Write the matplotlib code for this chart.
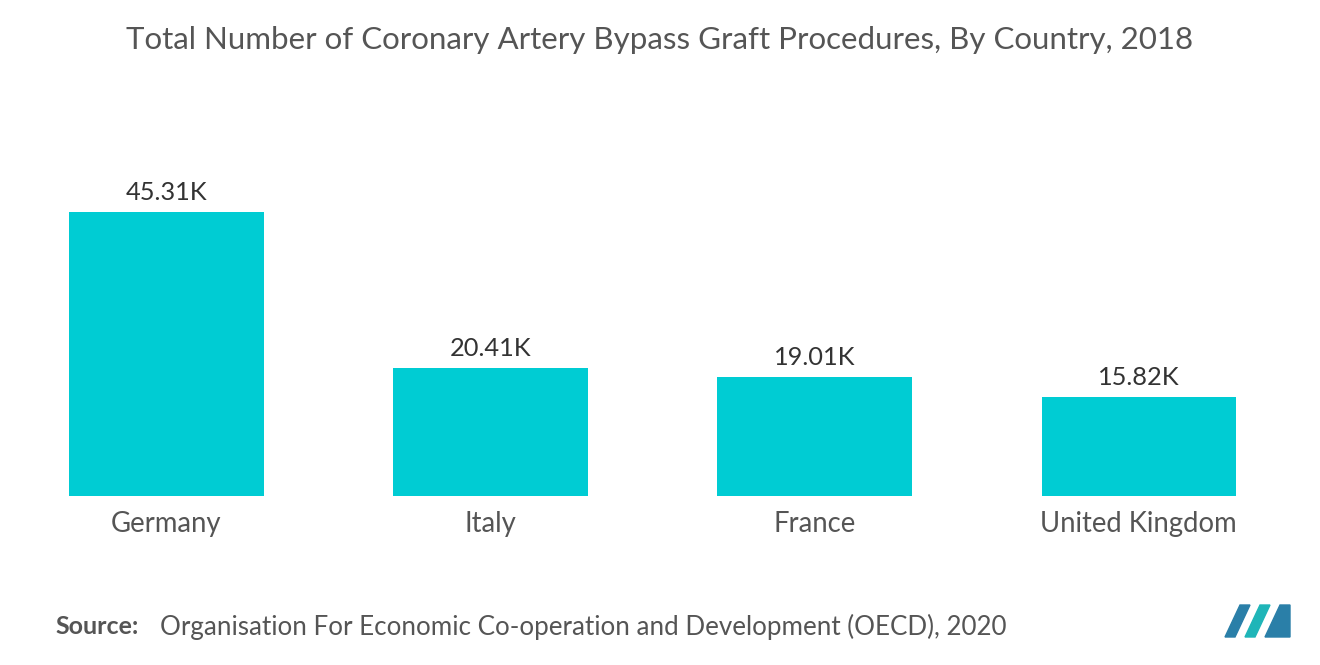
import matplotlib
matplotlib.use("Agg")
import matplotlib.pyplot as plt
from matplotlib.patches import Polygon

countries = ["Germany", "Italy", "France", "United Kingdom"]
values = [45.31, 20.41, 19.01, 15.82]
labels = ["45.31K", "20.41K", "19.01K", "15.82K"]

plt.rcParams["font.family"] = "Lato"
W, H = 1320, 665
fig = plt.figure(figsize=(W/100, H/100), dpi=100)
ax = fig.add_axes([69/W, 169/H, 1167/W, 313.4/H])
x = range(len(countries))
ax.bar(x, values, width=0.6, color="#00CCD3")
ax.set_xlim(-0.3, 3.3)
ax.set_ylim(0, 50)
for i, (v, l) in enumerate(zip(values, labels)):
    ax.text(i, v + 1.3, l, ha="center", va="bottom", fontsize=18.3, color="#333333")
ax.set_xticks(list(x))
ax.set_xticklabels(countries, fontsize=19.8, color="#555555")
ax.tick_params(axis="x", length=0, pad=11)
ax.set_yticks([])
for s in ax.spines.values():
    s.set_visible(False)

fig.text(0.5, 1 - 40/H, "Total Number of Coronary Artery Bypass Graft Procedures, By Country, 2018",
         ha="center", va="center", fontsize=22.5, color="#555555")
fig.text(55/W, 1 - 627/H, "Source:", ha="left", va="center", fontsize=18, color="#555555", fontweight="bold")
fig.text(160/W, 1 - 627/H, "Organisation For Economic Co-operation and Development (OECD), 2020",
         ha="left", va="center", fontsize=18.7, color="#555555")

def P(pts, c):
    fig.patches.append(Polygon([(px/W, 1 - py/H) for px, py in pts], closed=True,
                               transform=fig.transFigure, color=c))
P([(1225, 637), (1240, 605), (1250, 605), (1235, 637)], "#2a7fa8")
P([(1245, 637), (1260, 605), (1270, 605), (1255, 637)], "#1fb5b8")
P([(1265, 637), (1280, 605), (1290, 605), (1290, 637)], "#2a7fa8")
fig.savefig("out.png", dpi=100)
